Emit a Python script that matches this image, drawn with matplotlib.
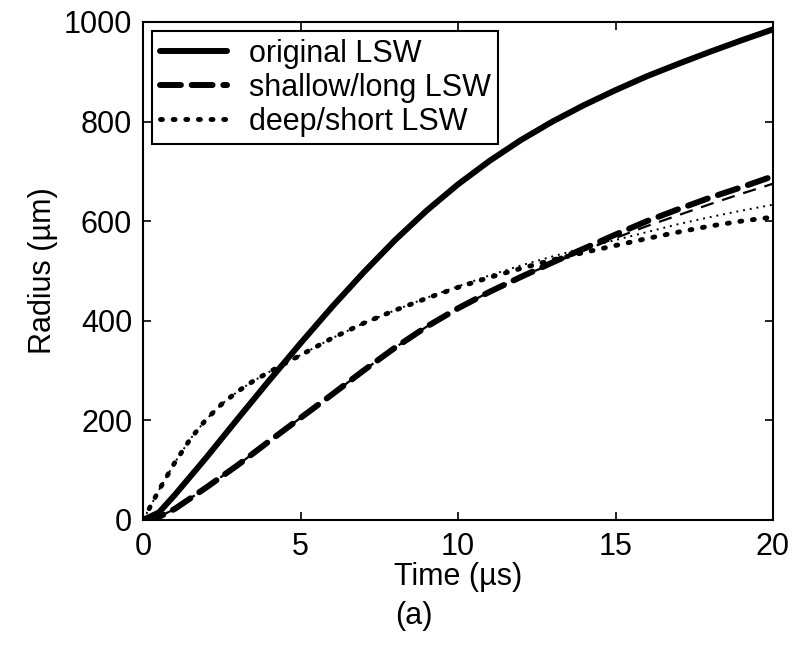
import matplotlib
matplotlib.use("Agg")
import matplotlib.pyplot as plt
import numpy as np

plt.rcParams['font.family'] = ['Liberation Sans', 'DejaVu Sans']

# Data (time in µs, radius in µm)
t_orig = [0, 0.5, 1, 2, 3, 4, 5, 6, 7, 8, 9, 10, 11, 12, 13, 14, 15, 16, 17, 18, 19, 20]
r_orig = [0, 15, 50, 125, 203, 280, 355, 428, 497, 562, 621, 674, 721, 763, 800, 833, 863, 891, 916, 940, 963, 985]

t_shallow = [0, 0.5, 1, 2, 3, 4, 5, 6, 7, 8, 9, 10, 11, 12, 13, 14, 15, 16, 17, 18, 19, 20]
r_shallow = [0, 6, 22, 65, 110, 158, 205, 252, 300, 346, 388, 425, 458, 488, 517, 545, 573, 600, 624, 647, 668, 690]
r_shallow_b = [0, 6, 22, 65, 110, 158, 205, 252, 300, 346, 388, 425, 458, 488, 515, 541, 566, 590, 612, 634, 655, 675]

t_deep = [0, 0.5, 1, 1.5, 2, 2.5, 3, 3.5, 4, 4.5, 5, 6, 7, 8, 9, 10, 11, 12, 13, 14, 15, 16, 17, 18, 19, 20]
r_deep = [0, 60, 115, 163, 202, 233, 258, 279, 297, 314, 331, 365, 395, 421, 445, 467, 487, 505, 522, 537, 551, 565, 578, 590, 600, 608]
r_deep_b = [0, 60, 115, 163, 202, 233, 258, 279, 297, 314, 331, 365, 395, 421, 446, 469, 491, 511, 529, 546, 562, 578, 594, 608, 621, 633]

labels = ['original LSW', 'shallow/long LSW', 'deep/short LSW']

fig = plt.figure(figsize=(7.96, 6.45), dpi=100)
ax = fig.add_axes([0.18, 0.194, 0.791, 0.772])

ax.plot(t_orig, r_orig, color='black', lw=4.3, solid_capstyle='round', label=labels[0])
ax.plot(t_shallow, r_shallow, color='black', lw=4.3, linestyle=(0, (3.5, 1.8)), dash_capstyle='round', label=labels[1])
ax.plot(t_shallow, r_shallow_b, color='black', lw=1.6, linestyle=(0, (6, 4)))
ax.plot(t_deep, r_deep, color='black', lw=3.5, linestyle=(0, (0.4, 2.2)), dash_capstyle='round', label=labels[2])
ax.plot(t_deep, r_deep_b, color='black', lw=1.4, linestyle=(0, (1, 2.5)))

ax.set_xlim(0, 20)
ax.set_ylim(0, 1000)
ax.set_xticks([0, 5, 10, 15, 20])
ax.set_yticks([0, 200, 400, 600, 800, 1000])
ax.tick_params(direction='in', length=6, width=1.2, top=True, right=True, labelsize=22)
ax.tick_params(axis='x', pad=9)
ax.tick_params(axis='y', pad=8)
for s in ax.spines.values():
    s.set_linewidth(1.5)

ax.set_xlabel('Time (µs)', fontsize=22, labelpad=0)
ax.set_ylabel('Radius (µm)', fontsize=22, labelpad=4)
fig.text(0.52, 0.045, '(a)', fontsize=22, ha='center', va='center')

leg = ax.legend(loc='upper left', fontsize=22, handlelength=2.2, handletextpad=0.7,
                borderaxespad=0.3, borderpad=0.25, labelspacing=0.13, fancybox=False,
                framealpha=1, edgecolor='black')
leg.get_frame().set_linewidth(1.5)

fig.savefig('out.png', dpi=100)
